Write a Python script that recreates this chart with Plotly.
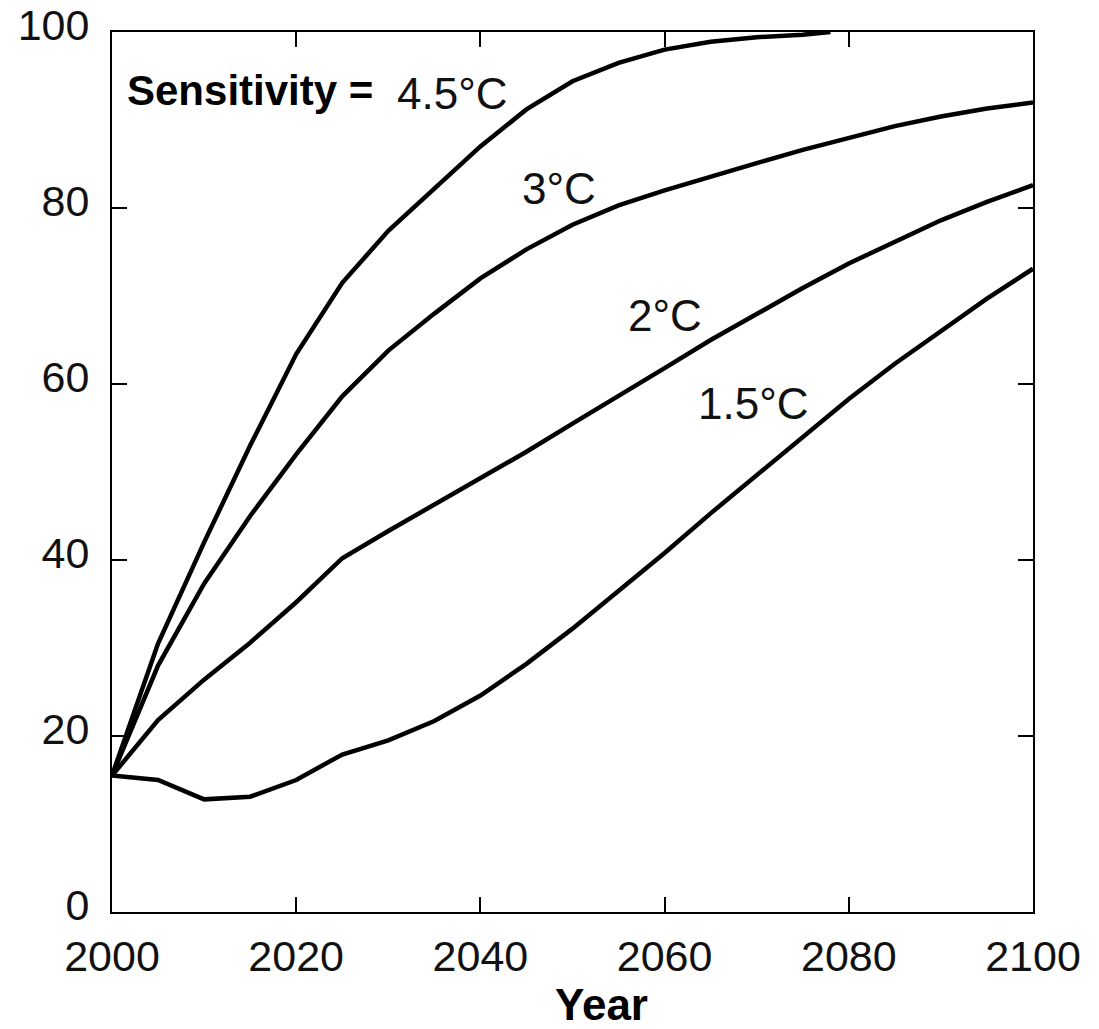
import plotly.graph_objects as go

# ---- data ----
years = list(range(2000, 2101, 5))
years_45 = list(range(2000, 2076, 5)) + [2078]

sens_45 = [15.5, 30.5, 42.0, 53.0, 63.4, 71.5, 77.4, 82.2, 87.0, 91.2,
           94.4, 96.5, 98.0, 98.9, 99.4, 99.7, 100.0]
sens_3 = [15.5, 28.0, 37.3, 45.0, 52.0, 58.6, 63.8, 68.0, 72.0, 75.3,
          78.1, 80.3, 82.0, 83.6, 85.1, 86.6, 88.0, 89.3, 90.4, 91.3, 92.0]
sens_2 = [15.5, 21.8, 26.4, 30.6, 35.2, 40.2, 43.3, 46.3, 49.3, 52.3,
          55.5, 58.6, 61.8, 65.0, 68.0, 70.9, 73.7, 76.2, 78.6, 80.7, 82.6]
sens_15 = [15.5, 15.0, 12.8, 13.1, 15.0, 17.9, 19.5, 21.7, 24.6, 28.2,
           32.2, 36.5, 40.8, 45.3, 49.6, 54.0, 58.3, 62.3, 66.0, 69.7, 73.1]

curve_labels = ["4.5°C", "3°C", "2°C", "1.5°C"]
label_x = [2037.0, 2048.5, 2060.0, 2069.7]
label_y = [93.0, 82.2, 67.8, 57.8]

x_ticks = [2000, 2020, 2040, 2060, 2080, 2100]
y_ticks = [0, 20, 40, 60, 80, 100]

FONT = "Liberation Sans, Arial, Helvetica, sans-serif"

fig = go.Figure()
for xs, ys in [(years_45, sens_45), (years, sens_3), (years, sens_2), (years, sens_15)]:
    fig.add_trace(go.Scatter(
        x=xs, y=ys, mode="lines",
        line=dict(color="black", width=4.5),
        showlegend=False, hoverinfo="skip"))

fig.add_annotation(text="<b>Sensitivity =</b>", x=2001.4, y=93.3,
                   xanchor="left", yanchor="middle", showarrow=False,
                   font=dict(size=42, family=FONT, color="black"))
for t, xv, yv in zip(curve_labels, label_x, label_y):
    fig.add_annotation(text=t, x=xv, y=yv, xanchor="center", yanchor="middle",
                       showarrow=False,
                       font=dict(size=44, family=FONT, color="#111111"))

# x-axis title placed as in the reference (slightly right of centre)
fig.add_annotation(text="<b>Year</b>", xref="paper", yref="paper",
                   x=0.531, y=-0.105, xanchor="center", yanchor="middle",
                   showarrow=False,
                   font=dict(size=44, family=FONT, color="black"))

fig.update_layout(
    width=1099, height=1029,
    margin=dict(l=112, r=66, t=32, b=117),
    plot_bgcolor="white", paper_bgcolor="white",
    font=dict(family=FONT, color="#111111", size=43),
    showlegend=False,
)
axis_common = dict(
    ticks="inside", ticklen=15, tickwidth=2, tickcolor="black",
    showline=True, linewidth=2, linecolor="black", mirror="ticks",
    showgrid=False, zeroline=False, automargin=False,
    tickfont=dict(size=43, family=FONT, color="#111111"),
)
fig.update_xaxes(range=[2000, 2100], tickvals=x_ticks, ticklabelstandoff=5,
                 **axis_common)
fig.update_yaxes(range=[0, 100], tickvals=y_ticks, ticklabelstandoff=12,
                 ticklabelshift=-7, **axis_common)

fig.write_html("out.html", config={"displayModeBar": False},
               post_script="document.body.style.margin='0';")
